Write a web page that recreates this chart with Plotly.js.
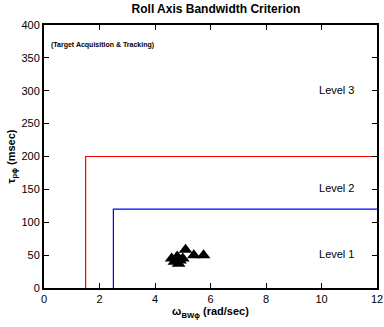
<!DOCTYPE html>
<html><head><meta charset="utf-8">
<script src="https://cdn.plot.ly/plotly-3.0.1.min.js"></script>
<style>body{margin:0;background:#fff}#c{width:384px;height:327px}</style>
</head><body><div id="c"></div>
<script>
const level1X = [2.5, 2.5, 12];
const level1Y = [0, 120, 120];
const level2X = [1.5, 1.5, 12];
const level2Y = [0, 200, 200];
const dataX = [4.6, 4.7, 4.8, 4.9, 4.85, 5.0, 5.1, 5.4, 5.75];
const dataY = [45, 40, 48, 42, 37, 45, 58, 50, 50];
const levelLabels = ['Level 1', 'Level 2', 'Level 3'];
const levelLabelY = [50, 150, 300];
const levelLabelX = [10.55, 10.55, 10.55];

const font = 'Liberation Sans, Arial, sans-serif';
const traces = [
  {x: level2X, y: level2Y, mode: 'lines', line: {color: '#ff0000', width: 1.2}, hoverinfo: 'skip'},
  {x: level1X, y: level1Y, mode: 'lines', line: {color: '#0000ff', width: 1.2}, hoverinfo: 'skip'},
  {x: dataX, y: dataY, mode: 'markers', marker: {symbol: 'triangle-up', size: 12, color: '#000'}},
  {x: levelLabelX, y: levelLabelY, mode: 'text', text: levelLabels, textfont: {family: font, size: 11, color: '#000'}}
];
const axisCommon = {
  showgrid: false, zeroline: false, showline: true, mirror: 'ticks', linecolor: '#000', linewidth: 2,
  ticks: 'inside', ticklen: 5, tickcolor: '#000', tickfont: {family: font, size: 11, color: '#000'}
};
const layout = {
  width: 384, height: 327,
  margin: {l: 44, r: 7, t: 25, b: 39},
  showlegend: false,
  paper_bgcolor: '#fff', plot_bgcolor: '#fff',
  title: {text: '<b>Roll Axis Bandwidth Criterion</b>', font: {family: font, size: 12, color: '#000'}, x: 0.5625, xanchor: 'center', y: 0.985, yanchor: 'top'},
  xaxis: Object.assign({}, axisCommon, {range: [0, 12], tickvals: [0, 2, 4, 6, 8, 10, 12],
    title: {text: '<b>ω<sub>BWϕ</sub> (rad/sec)</b>', font: {family: font, size: 11, color: '#000'}, standoff: 2}}),
  yaxis: Object.assign({}, axisCommon, {range: [0, 400], tickvals: [0, 50, 100, 150, 200, 250, 300, 350, 400],
    title: {text: '<b>τ<sub>pϕ</sub> (msec)</b>', font: {family: font, size: 11, color: '#000'}, standoff: 4}}),
  annotations: [{xref: 'paper', yref: 'paper', x: 0.015, y: 0.925, xanchor: 'left', yanchor: 'middle', showarrow: false,
    text: '<b>(Target Acquisition &amp; Tracking)</b>', font: {family: font, size: 7, color: '#000'}}]
};
Plotly.newPlot('c', traces, layout, {displayModeBar: false, staticPlot: true});
</script></body></html>
